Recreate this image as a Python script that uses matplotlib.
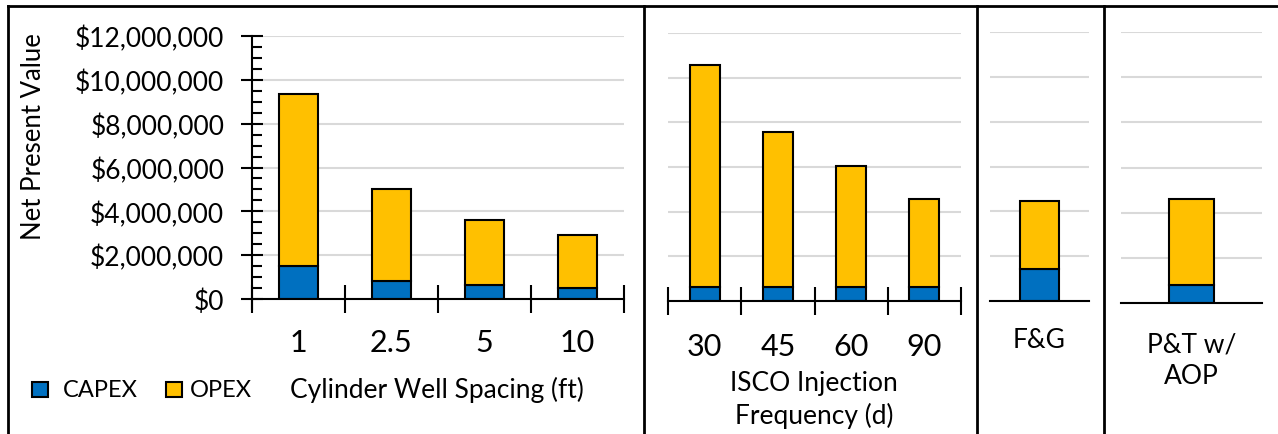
import matplotlib
matplotlib.use("Agg")
import matplotlib.pyplot as plt
import numpy as np
from matplotlib.patches import Rectangle
from matplotlib.lines import Line2D
from matplotlib.ticker import MultipleLocator, FuncFormatter

plt.rcParams["font.family"] = "Lato"

# Data (USD)
spacing_labels = ["1", "2.5", "5", "10"]
spacing_capex = [1.50e6, 0.83e6, 0.63e6, 0.50e6]
spacing_total = [9.36e6, 5.02e6, 3.60e6, 2.92e6]

freq_labels = ["30", "45", "60", "90"]
freq_capex = [0.62e6, 0.62e6, 0.62e6, 0.62e6]
freq_total = [10.55e6, 7.55e6, 6.05e6, 4.55e6]

fg_labels = ["F&G"]
fg_capex = [1.43e6]
fg_total = [4.45e6]

pt_labels = ["P&T w/\nAOP"]
pt_capex = [0.80e6]
pt_total = [4.60e6]

blue = "#0070c0"
gold = "#ffc000"
grid_col = "#d9d9d9"

W, H = 1278, 435
fig = plt.figure(figsize=(W / 100, H / 100), dpi=100)


def px_axes(left, right, zero, top):
    return fig.add_axes([left / W, 1 - zero / H, (right - left) / W, (zero - top) / H])


def draw_bars(ax, capex, total, width):
    x = np.arange(len(capex))
    opex = np.array(total) - np.array(capex)
    ax.bar(x, capex, width=width, color=blue, edgecolor="black", linewidth=1.5, zorder=3)
    ax.bar(x, opex, bottom=capex, width=width, color=gold, edgecolor="black", linewidth=1.5, zorder=3)
    ax.set_xlim(-0.5, len(capex) - 0.5)
    ax.set_ylim(0, 12e6)
    ax.set_yticks(np.arange(0, 12.1e6, 2e6))
    ax.grid(axis="y", color=grid_col, linewidth=1.5, zorder=0)
    for s in ["top", "right", "left"]:
        ax.spines[s].set_visible(False)
    ax.spines["bottom"].set_linewidth(1.5)
    ax.spines["bottom"].set_zorder(4)
    ax.tick_params(axis="y", left=False, labelleft=False)
    ax.set_xticks([])
    ax.patch.set_alpha(0)


ax1 = px_axes(252, 624, 300, 37)
draw_bars(ax1, spacing_capex, spacing_total, 0.41)
ax2 = px_axes(668, 961, 302, 34)
draw_bars(ax2, freq_capex, freq_total, 0.41)
ax3 = px_axes(990, 1089, 302, 33)
draw_bars(ax3, fg_capex, fg_total, 0.40)
ax4 = px_axes(1121, 1262, 304, 33)
draw_bars(ax4, pt_capex, pt_total, 0.32)

# y axis on first panel
ax1.spines["left"].set_visible(True)
ax1.spines["left"].set_linewidth(1.5)
ax1.spines["left"].set_bounds(-0.45e6, 12e6)
ax1.tick_params(axis="y", left=True, labelleft=True, direction="inout", length=16, width=1.5,
                labelsize=19, pad=12)
ax1.yaxis.set_minor_locator(MultipleLocator(0.5e6))
ax1.tick_params(axis="y", which="minor", direction="in", length=7, width=1.5)
ax1.yaxis.set_major_formatter(FuncFormatter(lambda v, p: f"${v:,.0f}"))
fig.text(34 / W, 1 - 137 / H, "Net Present Value", rotation=90, ha="center", va="center", fontsize=18.5)

# category boundary ticks on first two panels
for ax, n in [(ax1, 4), (ax2, 4)]:
    ax.set_xticks(np.arange(-0.5, n, 1.0))
    ax.tick_params(axis="x", direction="inout", length=20, width=1.5, labelbottom=False)

# category labels
for ax, labels, yoff, fs in [(ax1, spacing_labels, 43, 22), (ax2, freq_labels, 45, 22),
                             (ax3, fg_labels, 39, 19), (ax4, pt_labels, 57, 19)]:
    for i, lab in enumerate(labels):
        ax.annotate(lab, xy=(i, 0), xycoords="data", xytext=(0, -yoff), textcoords="offset pixels",
                    ha="center", va="center", fontsize=fs, linespacing=1.35, annotation_clip=False)

# group titles
fig.text(437 / W, 1 - 390 / H, "Cylinder Well Spacing (ft)", ha="center", va="center", fontsize=19)
fig.text(814 / W, 1 - 400 / H, "ISCO Injection\nFrequency (d)", ha="center", va="center",
         fontsize=19, linespacing=1.35)

# legend
for x0, col, lab, tx in [(32, blue, "CAPEX", 63), (166, gold, "OPEX", 190)]:
    fig.add_artist(Rectangle((x0 / W, 1 - 398 / H), 16 / W, 15 / H, transform=fig.transFigure,
                             facecolor=col, edgecolor="black", linewidth=1.5))
    fig.text(tx / W, 1 - 391 / H, lab, ha="left", va="center", fontsize=17)

# frame and separators
lw = 2
fig.add_artist(Line2D([8 / W, 1], [1 - 7 / H, 1 - 7 / H], transform=fig.transFigure, color="black", lw=lw))
for xs in [8, 644, 977, 1104]:
    fig.add_artist(Line2D([xs / W, xs / W], [0, 1 - 7 / H], transform=fig.transFigure, color="black", lw=lw))

fig.savefig("out.png", dpi=100)
